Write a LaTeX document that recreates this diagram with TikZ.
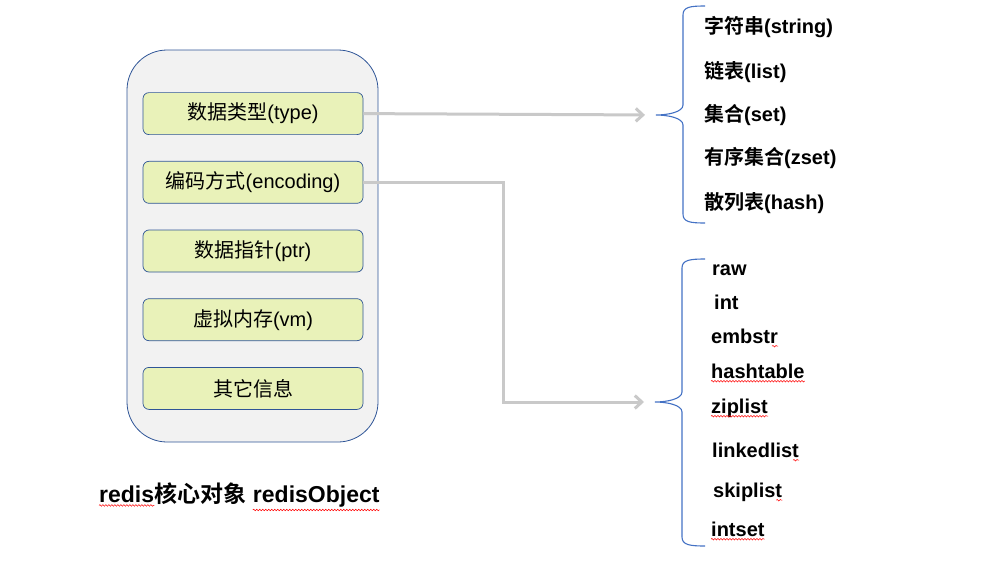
\documentclass[tikz,border=0pt]{standalone}
\usepackage{fontspec}
\setmainfont{Liberation Sans}
\newfontfamily\cjk{Noto Sans CJK SC}[BoldFont={* Bold}]
\usetikzlibrary{arrows.meta}
\usetikzlibrary{decorations.pathmorphing}

\definecolor{objblue}{HTML}{2F5597}
\definecolor{objgray}{HTML}{F2F2F2}
\definecolor{fieldgreen}{HTML}{E9F2B9}
\definecolor{linkgray}{HTML}{C9C9C9}
\definecolor{braceblue}{HTML}{4472C4}

\begin{document}
\begin{tikzpicture}[x=1pt,y=-1pt,
      objbox/.style={draw=objblue,fill=objgray,line width=0.8pt,rounded corners=40pt,minimum width=251pt,minimum height=392pt},
      field/.style={draw=objblue,fill=fieldgreen,line width=0.7pt,rounded corners=6pt,minimum width=220pt,minimum height=42pt,font=\fontsize{20}{22}\selectfont},
      item/.style={anchor=west,inner sep=0pt,text height=15pt,text depth=3pt,font=\fontsize{20}{22}\selectfont\bfseries},
      captext/.style={inner sep=0pt,font=\fontsize{23}{25}\selectfont\bfseries},
      link/.style={draw=linkgray,line width=3pt,-{Straight Barb[length=7pt,width=13pt]},shorten >=11pt},
      brace/.style={draw=braceblue,line width=1.1pt},
      squiggle/.style={draw=red,line width=0.5pt,decorate,decoration={snake,amplitude=0.8pt,segment length=3pt}},
    ]
    \useasboundingbox (0,0) rectangle (989,562);
    \node[objbox] (redisObject) at (252.5,246) {};
    \matrix[row sep=26pt] at (253,251) {
      \node[field] (type) {{\cjk 数据类型}(type)}; \\
      \node[field] (encoding) {{\cjk 编码方式}(encoding)}; \\
      \node[field] (ptr) {{\cjk 数据指针}(ptr)}; \\
      \node[field] (vm) {{\cjk 虚拟内存}(vm)}; \\
      \node[field] (other) {\cjk 其它信息}; \\
    };

    % caption
    \node[captext,anchor=base west] (capRedis) at (99,502) {redis};
    \node[captext,anchor=base west] (capCore) at (capRedis.base east) {\cjk 核心对象};
    \node[captext,anchor=base west] (capObject) at ([xshift=6pt]capCore.base east) {redisObject};
    \draw[squiggle] ([yshift=-3pt]capRedis.south west) -- ([yshift=-3pt]capRedis.south east);
    \draw[squiggle] ([yshift=-3pt]capObject.south west) -- ([yshift=-3pt]capObject.south east);

    % braces
    \coordinate (typeBrace) at (656,115);
    \coordinate (encBrace) at (655,402);
    \draw[brace] (705,6) .. controls (690,6) and (683,7) .. (683,15) -- (683,105)
      .. controls (683,112) and (668,115) .. (typeBrace)
      .. controls (668,115) and (683,118) .. (683,125) -- (683,214)
      .. controls (683,222) and (690,223) .. (705,223);
    \draw[brace] (705,259) .. controls (690,259) and (682,260) .. (682,268) -- (682,392)
      .. controls (682,399) and (667,402) .. (encBrace)
      .. controls (667,402) and (682,405) .. (682,412) -- (682,537)
      .. controls (682,545) and (690,546) .. (705,546);

    \draw[link] (type.east) -- (typeBrace);
    \draw[link] (encoding.east) -- ++(140,0) |- (encBrace);

    % types
    \node[item] (string) at (704,28) {{\cjk 字符串}(string)};
    \node[item] (list) at (704,72) {{\cjk 链表}(list)};
    \node[item] (set) at (704,115) {{\cjk 集合}(set)};
    \node[item] (zset) at (704,158) {{\cjk 有序集合}(zset)};
    \node[item] (hash) at (704,203) {{\cjk 散列表}(hash)};

    % encodings
    \node[item] (raw) at (712,269) {raw};
    \node[item] (int) at (714,303) {int};
    \node[item] (embstr) at (711,337) {embstr};
    \node[item] (hashtable) at (711,372) {hashtable};
    \node[item] (ziplist) at (711,407) {ziplist};
    \node[item] (linkedlist) at (712,451) {linkedlist};
    \node[item] (skiplist) at (713,491) {skiplist};
    \node[item] (intset) at (711,530) {intset};
    \draw[squiggle] ([xshift=-6pt]embstr.south east) -- (embstr.south east);
    \draw[squiggle] (hashtable.south west) -- (hashtable.south east);
    \draw[squiggle] (ziplist.south west) -- (ziplist.south east);
    \draw[squiggle] ([xshift=-6pt]linkedlist.south east) -- (linkedlist.south east);
    \draw[squiggle] ([xshift=-6pt]skiplist.south east) -- (skiplist.south east);
    \draw[squiggle] (intset.south west) -- (intset.south east);
  \end{tikzpicture}
\end{document}
